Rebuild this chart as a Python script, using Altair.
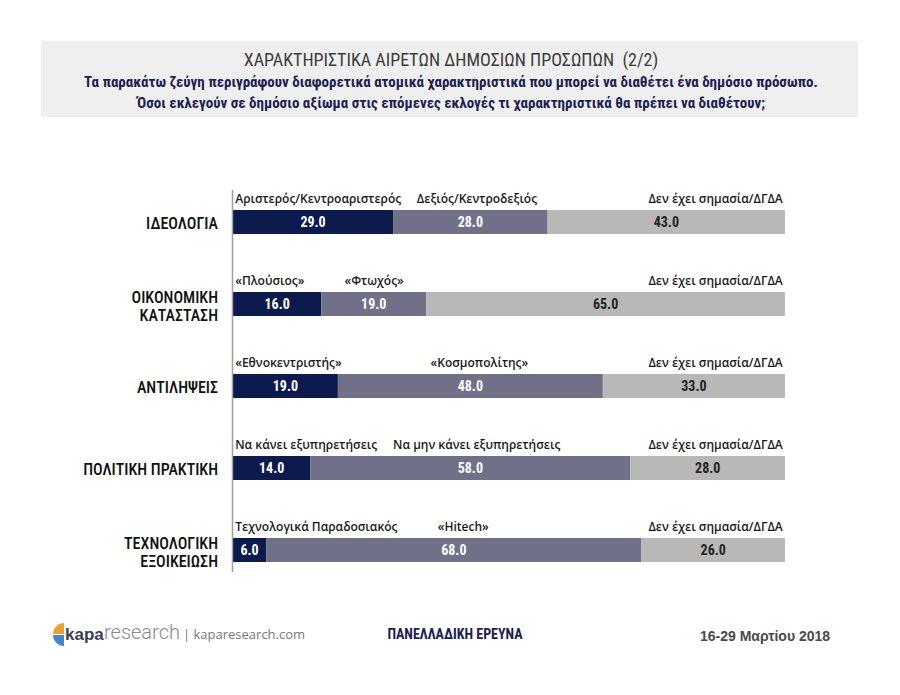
import altair as alt
import pandas as pd

categories = ["ΙΔΕΟΛΟΓΙΑ", "ΟΙΚΟΝΟΜΙΚΗ\nΚΑΤΑΣΤΑΣΗ", "ΑΝΤΙΛΗΨΕΙΣ",
              "ΠΟΛΙΤΙΚΗ ΠΡΑΚΤΙΚΗ", "ΤΕΧΝΟΛΟΓΙΚΗ\nΕΞΟΙΚΕΙΩΣΗ"]
first_vals = [29.0, 16.0, 19.0, 14.0, 6.0]
second_vals = [28.0, 19.0, 48.0, 58.0, 68.0]
third_vals = [43.0, 65.0, 33.0, 28.0, 26.0]
first_names = ["Αριστερός/Κεντροαριστερός", "«Πλούσιος»", "«Εθνοκεντριστής»",
               "Να κάνει εξυπηρετήσεις", "Τεχνολογικά Παραδοσιακός"]
second_names = ["Δεξιός/Κεντροδεξιός", "«Φτωχός»", "«Κοσμοπολίτης»",
                "Να μην κάνει εξυπηρετήσεις", "«Hitech»"]
third_name = "Δεν έχει σημασία/ΔΓΔΑ"
# where the second answer's caption begins (percent scale)
second_name_at = [33.3, 20.2, 35.8, 29.0, 37.1]

title = "ΧΑΡΑΚΤΗΡΙΣΤΙΚΑ ΑΙΡΕΤΩΝ ΔΗΜΟΣΙΩΝ ΠΡΟΣΩΠΩΝ \u00a0(2/2)"
subtitle1 = "Τα παρακάτω ζεύγη περιγράφουν διαφορετικά ατομικά χαρακτηριστικά που μπορεί να διαθέτει ένα δημόσιο πρόσωπο."
subtitle2 = "Όσοι εκλεγούν σε δημόσιο αξίωμα στις επόμενες εκλογές τι χαρακτηριστικά θα πρέπει να διαθέτουν;"

NAVY = "#0c1a4e"
SLATE = "#707189"
LIGHT = "#b8b8b8"
CONDENSED = "Liberation Sans Narrow, Roboto Condensed, Arial Narrow, Liberation Sans, sans-serif"

rows = []
for i, c in enumerate(categories):
    vals = [first_vals[i], second_vals[i], third_vals[i]]
    start = 0.0
    for s, v in enumerate(vals):
        rows.append({"cat": c, "seg": s, "value": v, "start": start,
                     "end": start + v, "mid": start + v / 2,
                     "label": f"{v:.1f}"})
        start += v
bars_df = pd.DataFrame(rows)

cap_rows = []
for i, c in enumerate(categories):
    cap_rows.append({"cat": c, "name": first_names[i], "pos": 0.4, "kind": "first"})
    cap_rows.append({"cat": c, "name": second_names[i], "pos": second_name_at[i], "kind": "second"})
    cap_rows.append({"cat": c, "name": third_name, "pos": 99.6, "kind": "third"})
cap_df = pd.DataFrame(cap_rows)

cat_df = pd.DataFrame({"cat": categories})

xs = alt.Scale(domain=[0, 100], range=[225, 777], nice=False, zero=False)
ys = alt.Scale(domain=categories, range=[173, 583], paddingInner=0, paddingOuter=0)
X = lambda f: alt.X(f, type="quantitative", scale=xs, axis=None)
Y = alt.Y("cat:N", scale=ys, axis=None, sort=categories)

one = pd.DataFrame({"a": [0]})

header_bg = alt.Chart(one).mark_rect(color="#efefef").encode(
    x=alt.value(33), x2=alt.value(850), y=alt.value(33), y2=alt.value(109))
header = alt.Chart(one).mark_text(
    text=title, font=CONDENSED, fontSize=18, color="#3d3d3d", align="center", baseline="middle"
).encode(x=alt.value(443), y=alt.value(53))
sub1 = alt.Chart(one).mark_text(
    text=subtitle1, font=CONDENSED, fontSize=15, fontWeight="bold", color="#1b2150",
    align="center", baseline="middle").encode(x=alt.value(443), y=alt.value(74))
sub2 = alt.Chart(one).mark_text(
    text=subtitle2, font=CONDENSED, fontSize=15, fontWeight="bold", color="#1b2150",
    align="center", baseline="middle").encode(x=alt.value(443), y=alt.value(95))

bars = alt.Chart(bars_df).mark_bar(size=24).encode(
    x=X("start"), x2="end", y=Y,
    color=alt.Color("seg:O", scale=alt.Scale(domain=[0, 1, 2], range=[NAVY, SLATE, LIGHT]), legend=None),
)

values = alt.Chart(bars_df).mark_text(
    font=CONDENSED, fontSize=14, fontWeight="bold", baseline="middle", dy=1
).encode(
    x=X("mid"), y=Y, text="label:N",
    color=alt.Color("seg:O", scale=alt.Scale(domain=[0, 1, 2], range=["white", "white", "#222222"]), legend=None),
)

axis_line = alt.Chart(one).mark_rule(color="#a0a0a0", strokeWidth=1.5).encode(
    x=alt.value(224.5), y=alt.value(182), y2=alt.value(564))

cat_single = alt.Chart(cat_df).transform_filter("indexof(datum.cat, '\\n') < 0").mark_text(
    font=CONDENSED, fontSize=16, fontWeight=500, color="#111111", align="right", baseline="middle",
    dy=2
).encode(x=alt.value(210), y=Y, text="cat:N")
cat_multi = alt.Chart(cat_df).transform_filter("indexof(datum.cat, '\\n') >= 0").mark_text(
    font=CONDENSED, fontSize=16, fontWeight=500, color="#111111", align="right", baseline="middle",
    lineHeight=18, dy=-6, lineBreak="\n"
).encode(x=alt.value(210), y=Y, text="cat:N")

caps_lr = alt.Chart(cap_df).transform_filter("datum.kind != 'third'").mark_text(
    font="Open Sans", fontSize=12, fontWeight=600, color="#1a1a1a", align="left",
    baseline="middle", dy=-23
).encode(x=X("pos"), y=Y, text="name:N")
caps_r = alt.Chart(cap_df).transform_filter("datum.kind == 'third'").mark_text(
    font="Open Sans", fontSize=12, fontWeight=600, color="#1a1a1a", align="right",
    baseline="middle", dy=-23
).encode(x=X("pos"), y=Y, text="name:N")

logo_top = alt.Chart(one).mark_arc(radius=11, theta=4.712, theta2=6.283, color="#e9a23b").encode(
    x=alt.value(56), y=alt.value(626))
logo_bot = alt.Chart(one).mark_arc(radius=11, theta=3.1416, theta2=4.712, color="#4a86c5").encode(
    x=alt.value(56), y=alt.value(627))
kapa = alt.Chart(one).mark_text(
    text="kapa", font="Liberation Sans", fontSize=17, fontWeight="bold", color="#3b3f4e",
    align="left", baseline="middle").encode(x=alt.value(57), y=alt.value(627))
research = alt.Chart(one).mark_text(
    text="research", font="Roboto", fontSize=20, fontWeight=300, color="#8a8a8a",
    align="left", baseline="middle").encode(x=alt.value(96), y=alt.value(625))
url = alt.Chart(one).mark_text(
    text="|  kaparesearch.com", font="Open Sans", fontSize=13, color="#777777",
    align="left", baseline="middle").encode(x=alt.value(175), y=alt.value(627))
survey = alt.Chart(one).mark_text(
    text="ΠΑΝΕΛΛΑΔΙΚΗ ΕΡΕΥΝΑ", font=CONDENSED, fontSize=14, fontWeight="bold", color="#1b2150",
    align="center", baseline="middle").encode(x=alt.value(447), y=alt.value(627))
date = alt.Chart(one).mark_text(
    text="16-29 Μαρτίου 2018", font="Liberation Sans", fontSize=14, fontWeight="bold", color="#4a4a4a",
    align="center", baseline="middle").encode(x=alt.value(757), y=alt.value(629))

chart = alt.layer(
    header_bg, header, sub1, sub2, bars, values, axis_line, cat_single, cat_multi, caps_lr, caps_r,
    logo_top, logo_bot, kapa, research, url, survey, date
).resolve_scale(color="independent").properties(
    width=884, height=679, autosize=alt.AutoSizeParams(type="none"), padding=0
).configure_view(stroke=None)

chart.save("out.html", embed_options={"renderer": "svg", "actions": False})
